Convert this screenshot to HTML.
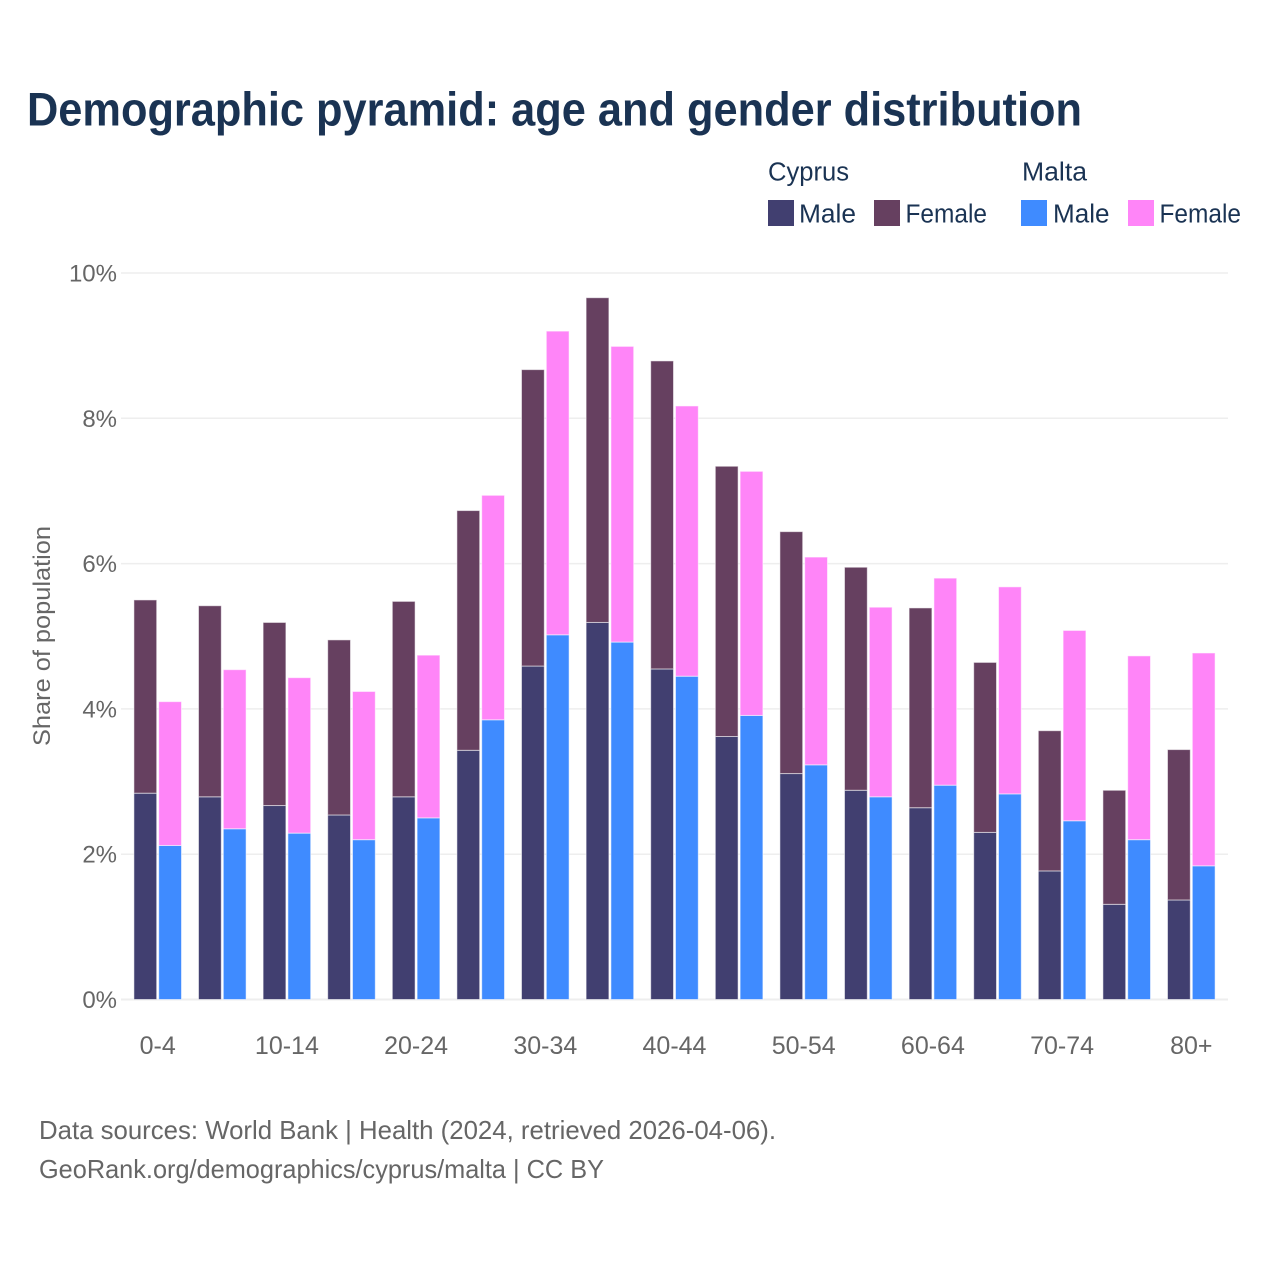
<!DOCTYPE html>
<html lang="en">
<head>
<meta charset="utf-8">
<title>Demographic pyramid: age and gender distribution</title>
<style>
html,body{margin:0;padding:0;background:#fff;}
svg{display:block;font-family:"Liberation Sans",sans-serif;}
</style>
</head>
<body>
<svg id="chart" width="1280" height="1280" viewBox="0 0 1280 1280" xmlns="http://www.w3.org/2000/svg">
  <rect x="0" y="0" width="1280" height="1280" fill="#ffffff"/>
  <text x="27" y="125.5" font-size="47" font-weight="700" fill="#1a3353" textLength="1055" lengthAdjust="spacingAndGlyphs">Demographic pyramid: age and gender distribution</text>

  <g font-size="25.5" fill="#1a3353">
    <text x="768" y="180.5" textLength="81" lengthAdjust="spacingAndGlyphs">Cyprus</text>
    <text x="1022" y="180.5" textLength="65" lengthAdjust="spacingAndGlyphs">Malta</text>
    <rect x="768" y="200" width="26" height="26" fill="#413f70"/>
    <text x="799" y="222.5" textLength="57" lengthAdjust="spacingAndGlyphs">Male</text>
    <rect x="874" y="200" width="26" height="26" fill="#664060"/>
    <text x="905.5" y="222.5" textLength="81.5" lengthAdjust="spacingAndGlyphs">Female</text>
    <rect x="1021" y="200" width="26" height="26" fill="#3f8bff"/>
    <text x="1053" y="222.5" textLength="56.5" lengthAdjust="spacingAndGlyphs">Male</text>
    <rect x="1128" y="200" width="26" height="26" fill="#ff85f8"/>
    <text x="1159.5" y="222.5" textLength="81.5" lengthAdjust="spacingAndGlyphs">Female</text>
  </g>

  <g id="grid"></g>
  <g id="bars"></g>
  <g id="y-axis"></g>
  <g id="x-axis"></g>

  <text transform="translate(50,746) rotate(-90)" x="0" y="0" font-size="24" fill="#666666" textLength="220" lengthAdjust="spacingAndGlyphs">Share of population</text>

  <text x="39" y="1139" font-size="26" fill="#666666" textLength="737" lengthAdjust="spacingAndGlyphs">Data sources: World Bank | Health (2024, retrieved 2026-04-06).</text>
  <text x="39" y="1178" font-size="26" fill="#666666" textLength="565" lengthAdjust="spacingAndGlyphs">GeoRank.org/demographics/cyprus/malta | CC BY</text>
</svg>
<script>
const categories = ['0-4','5-9','10-14','15-19','20-24','25-29','30-34','35-39','40-44','45-49','50-54','55-59','60-64','65-69','70-74','75-79','80+'];
const cyprusMale   = [2.84,2.79,2.67,2.54,2.79,3.43,4.59,5.19,4.55,3.62,3.11,2.88,2.64,2.30,1.77,1.31,1.37];
const cyprusFemale = [2.66,2.63,2.52,2.41,2.69,3.30,4.08,4.47,4.24,3.72,3.33,3.07,2.75,2.34,1.93,1.57,2.07];
const maltaMale    = [2.12,2.35,2.29,2.20,2.50,3.85,5.02,4.92,4.45,3.91,3.23,2.79,2.95,2.83,2.46,2.20,1.84];
const maltaFemale  = [1.98,2.19,2.14,2.04,2.24,3.09,4.18,4.07,3.72,3.36,2.86,2.61,2.85,2.85,2.62,2.53,2.93];
const yTicks = [0,2,4,6,8,10];
const xTickLabels = ['0-4','10-14','20-24','30-34','40-44','50-54','60-64','70-74','80+'];

const NS = 'http://www.w3.org/2000/svg';
const yScale = v => 999.5 - v * 72.65;
const xCenter = i => 157.7 + i * 64.6;
const barW = 22.8;

function svgEl(tag, attrs, parent) {
  const el = document.createElementNS(NS, tag);
  for (const k in attrs) el.setAttribute(k, attrs[k]);
  parent.appendChild(el);
  return el;
}

const grid = document.getElementById('grid');
const yAxis = document.getElementById('y-axis');
const xAxis = document.getElementById('x-axis');
const bars = document.getElementById('bars');

yTicks.forEach(t => {
  const line = svgEl('line', {x1: 121, x2: 1228, y1: yScale(t), y2: yScale(t), stroke: '#eeeeee', 'stroke-width': t === 0 ? 2 : 1.5}, grid);
  
  
  const label = svgEl('text', {x: 117, y: yScale(t) + 8.5, 'text-anchor': 'end', 'font-size': 24, fill: '#666666'}, yAxis);
  label.textContent = t + '%';
  
  
});

xTickLabels.forEach(name => {
  const i = categories.indexOf(name);
  const label = svgEl('text', {x: xCenter(i), y: 1054, 'text-anchor': 'middle', 'font-size': 25, fill: '#666666'}, xAxis);
  label.textContent = name;
  
  
});

function drawSegment(x, base, val, fill, name) {
  const top = yScale(base + val);
  const r = svgEl('rect', {x: x, y: top, width: barW, height: yScale(base) - top, fill: fill, stroke: '#ffffff', 'stroke-opacity': 0.55, 'stroke-width': 1}, bars);
  
  
}

categories.forEach((c, i) => {
  const x1 = xCenter(i) - 23.8;
  const x2 = xCenter(i) + 1;
  drawSegment(x1, 0, cyprusMale[i], '#413f70', 'bar-cyprus-male-' + c);
  drawSegment(x1, cyprusMale[i], cyprusFemale[i], '#664060', 'bar-cyprus-female-' + c);
  drawSegment(x2, 0, maltaMale[i], '#3f8bff', 'bar-malta-male-' + c);
  drawSegment(x2, maltaMale[i], maltaFemale[i], '#ff85f8', 'bar-malta-female-' + c);
});
</script>
</body>
</html>
